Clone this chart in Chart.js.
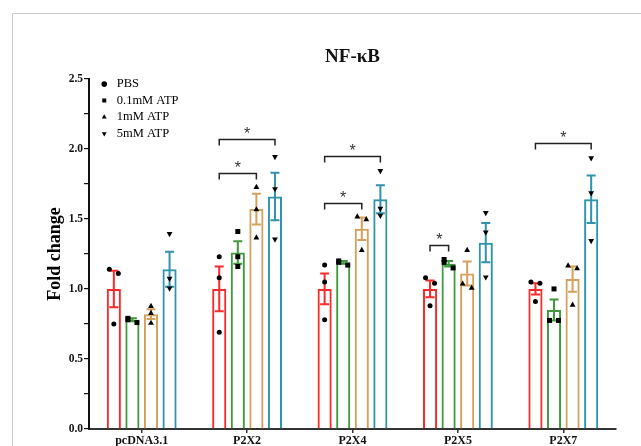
<!DOCTYPE html>
<html>
<head>
<meta charset="utf-8">
<script src="https://cdn.jsdelivr.net/npm/chart.js@4.4.0/dist/chart.umd.min.js"></script>
<style>
  html, body { margin: 0; padding: 0; background: #fff; }
  #wrap { width: 641px; height: 446px; position: relative; }
</style>
</head>
<body>
<div id="wrap"><canvas id="chart"></canvas></div>
<script>
// categories and series
var categories = ["pcDNA3.1", "P2X2", "P2X4", "P2X5", "P2X7"];
var seriesNames = ["PBS", "0.1mM ATP", "1mM ATP", "5mM ATP"];

// bar heights (mean fold change)
var pbsMean = [1.00, 1.00, 1.00, 1.00, 1.00];
var atp01Mean = [0.78, 1.26, 1.19, 1.18, 0.85];
var atp1Mean = [0.82, 1.57, 1.43, 1.11, 1.07];
var atp5Mean = [1.14, 1.66, 1.64, 1.33, 1.64];

// error bars (SEM)
var pbsSem = [0.13, 0.16, 0.11, 0.06, 0.04];
var atp01Sem = [0.01, 0.08, 0.01, 0.02, 0.075];
var atp1Sem = [0.035, 0.11, 0.08, 0.085, 0.09];
var atp5Sem = [0.125, 0.17, 0.10, 0.14, 0.17];

// replicate points
var pbsPts = [[1.14, 1.11, 0.75], [1.23, 1.08, 0.69], [1.17, 1.05, 0.78], [1.08, 1.04, 0.88], [1.05, 1.04, 0.91]];
var atp01Pts = [[0.79, 0.78, 0.76], [1.41, 1.23, 1.16], [1.20, 1.19, 1.17], [1.21, 1.19, 1.15], [1.00, 0.775, 0.775]];
var atp1Pts = [[0.88, 0.83, 0.76], [1.73, 1.57, 1.37], [1.52, 1.50, 1.28], [1.28, 1.04, 1.01], [1.17, 1.15, 0.89]];
var atp5Pts = [[1.39, 1.07, 1.00], [1.94, 1.71, 1.35], [1.84, 1.57, 1.52], [1.54, 1.40, 1.08], [1.93, 1.68, 1.34]];

// significance brackets: category index, from series, to series, height
var sigCat = [1, 1, 2, 2, 3, 4];
var sigFrom = [0, 0, 0, 0, 0, 0];
var sigTo = [3, 2, 3, 2, 1, 3];
var sigY = [2.07, 1.83, 1.95, 1.61, 1.31, 2.04];

var yTicksMax = 2.5;

var colors = ["#fb2a2a", "#3f9a3c", "#d5a05c", "#2f93ad"];
var markers = ["circle", "rect", "triangle", "triangleDown"];
var sems = [pbsSem, atp01Sem, atp1Sem, atp5Sem];
var pts = [pbsPts, atp01Pts, atp1Pts, atp5Pts];
var serif = "'Liberation Serif', 'Times New Roman', serif";

function jitter(vals) {
    var off = vals.map(function() { return 0; });
    for (var i = 1; i < vals.length; i++) {
        if (Math.abs(vals[i] - vals[i - 1]) < 0.05) {
            off[i - 1] = -4.5;
            off[i] = 4.5;
        }
    }
    return off;
}

function drawMarker(ctx, type, x, y) {
    ctx.beginPath();
    if (type === "circle") {
        ctx.arc(x, y, 2.5, 0, Math.PI * 2);
    } else if (type === "rect") {
        ctx.rect(x - 2.5, y - 2.5, 5, 5);
    } else if (type === "triangle") {
        ctx.moveTo(x, y - 2.9);
        ctx.lineTo(x + 2.9, y + 2.3);
        ctx.lineTo(x - 2.9, y + 2.3);
    } else {
        ctx.moveTo(x, y + 2.9);
        ctx.lineTo(x + 2.9, y - 2.3);
        ctx.lineTo(x - 2.9, y - 2.3);
    }
    ctx.closePath();
    ctx.fill();
}

// frame, legend placement, error bars, points, brackets
var extras = {
    id: "extras",
    afterLayout: function(chart) {
        // keep the legend inside the top-left corner of the plot
        var lg = chart.legend;
        var dx = chart.chartArea.left + 5 - lg.left;
        var dy = chart.chartArea.top - 5 - lg.top;
        lg.left += dx; lg.right += dx;
        lg.top += dy; lg.bottom += dy;
    },
    beforeDraw: function(chart) {
        var ctx = chart.ctx;
        ctx.save();
        ctx.strokeStyle = "#c8c8c8";
        ctx.lineWidth = 1;
        ctx.beginPath();
        ctx.moveTo(12.5, chart.height);
        ctx.lineTo(12.5, 13.5);
        ctx.lineTo(chart.width, 13.5);
        ctx.stroke();
        ctx.restore();
    },
    afterDatasetsDraw: function(chart) {
        var ctx = chart.ctx;
        var y = chart.scales.y;
        ctx.save();
        for (var d = 0; d < 4; d++) {
            var meta = chart.getDatasetMeta(d);
            var means = chart.data.datasets[d].data;
            meta.data.forEach(function(bar, i) {
                var top = y.getPixelForValue(means[i] + sems[d][i]);
                var bot = y.getPixelForValue(means[i] - sems[d][i]);
                ctx.strokeStyle = colors[d];
                ctx.lineWidth = 2;
                ctx.beginPath();
                ctx.moveTo(bar.x, top);
                ctx.lineTo(bar.x, bot);
                ctx.moveTo(bar.x - 4.5, top);
                ctx.lineTo(bar.x + 4.5, top);
                ctx.moveTo(bar.x - 4.5, bot);
                ctx.lineTo(bar.x + 4.5, bot);
                ctx.stroke();
                var vals = pts[d][i];
                var off = jitter(vals);
                ctx.fillStyle = "#000";
                vals.forEach(function(v, k) {
                    drawMarker(ctx, markers[d], bar.x + off[k], y.getPixelForValue(v));
                });
            });
        }
        // brackets
        ctx.strokeStyle = "#222";
        ctx.lineWidth = 1.5;
        ctx.fillStyle = "#333";
        ctx.font = "16px 'Liberation Sans', sans-serif";
        ctx.textAlign = "center";
        ctx.textBaseline = "middle";
        for (var s = 0; s < sigCat.length; s++) {
            var x1 = chart.getDatasetMeta(sigFrom[s]).data[sigCat[s]].x;
            var x2 = chart.getDatasetMeta(sigTo[s]).data[sigCat[s]].x;
            var yy = Math.round(y.getPixelForValue(sigY[s])) + 0.5;
            ctx.beginPath();
            ctx.moveTo(x1, yy + 6);
            ctx.lineTo(x1, yy);
            ctx.lineTo(x2, yy);
            ctx.lineTo(x2, yy + 6);
            ctx.stroke();
            ctx.fillText("*", (x1 + x2) / 2, yy - 5);
        }
        ctx.restore();
    }
};

var datasets = [pbsMean, atp01Mean, atp1Mean, atp5Mean].map(function(m, i) {
    return {
        label: seriesNames[i],
        data: m,
        backgroundColor: "rgba(255,255,255,0)",
        borderColor: colors[i],
        borderWidth: 2,
        categoryPercentage: 0.705,
        barPercentage: 0.76
    };
});

new Chart(document.getElementById("chart"), {
    type: "bar",
    data: { labels: categories, datasets: datasets },
    plugins: [extras],
    options: {
        responsive: true,
        maintainAspectRatio: false,
        animation: false,
        layout: { padding: { left: 0, right: 25, top: 0, bottom: 0 } },
        plugins: {
            tooltip: { enabled: false },
            title: {
                display: true,
                text: "NF-κB",
                fullSize: false,
                color: "#111",
                font: { family: serif, size: 19, weight: "bold" },
                padding: { top: 46, bottom: 10 }
            },
            legend: {
                position: "chartArea",
                align: "start",
                labels: {
                    usePointStyle: true,
                    boxHeight: 4,
                    boxWidth: 13,
                    padding: 4,
                    color: "#111",
                    font: { family: serif, size: 12.5 },
                    generateLabels: function() {
                        return seriesNames.map(function(n, i) {
                            return {
                                text: n,
                                fillStyle: "#000",
                                strokeStyle: "#000",
                                lineWidth: 0,
                                pointStyle: markers[i] === "triangleDown" ? "triangle" : markers[i],
                                rotation: markers[i] === "triangleDown" ? 180 : 0,
                                datasetIndex: i
                            };
                        });
                    }
                }
            }
        },
        scales: {
            x: {
                afterFit: function(scale) { scale.height = 17; },
                grid: { display: true, offset: false, drawOnChartArea: false, drawTicks: true, tickLength: 4, color: "#333", lineWidth: 1.5 },
                border: { display: true, color: "#333", width: 2 },
                ticks: { color: "#111", padding: 1, font: { family: serif, size: 12, weight: "bold" } }
            },
            y: {
                min: 0,
                max: yTicksMax,
                afterFit: function(scale) { scale.width = 89; },
                title: {
                    display: true,
                    text: "Fold change",
                    color: "#000",
                    font: { family: serif, size: 18, weight: "bold" },
                    padding: { top: 45, bottom: 0 }
                },
                grid: { display: true, drawOnChartArea: false, drawTicks: true, tickLength: 5, color: "#111", lineWidth: 1.2 },
                border: { display: true, color: "#111", width: 2 },
                ticks: {
                    stepSize: 0.25,
                    autoSkip: false,
                    padding: 1,
                    color: "#111",
                    font: { family: serif, size: 11.5, weight: "bold" },
                    callback: function(v) {
                        return Math.abs(v * 2 - Math.round(v * 2)) < 1e-6 ? v.toFixed(1) : "";
                    }
                }
            }
        }
    }
});
</script>
</body>
</html>
